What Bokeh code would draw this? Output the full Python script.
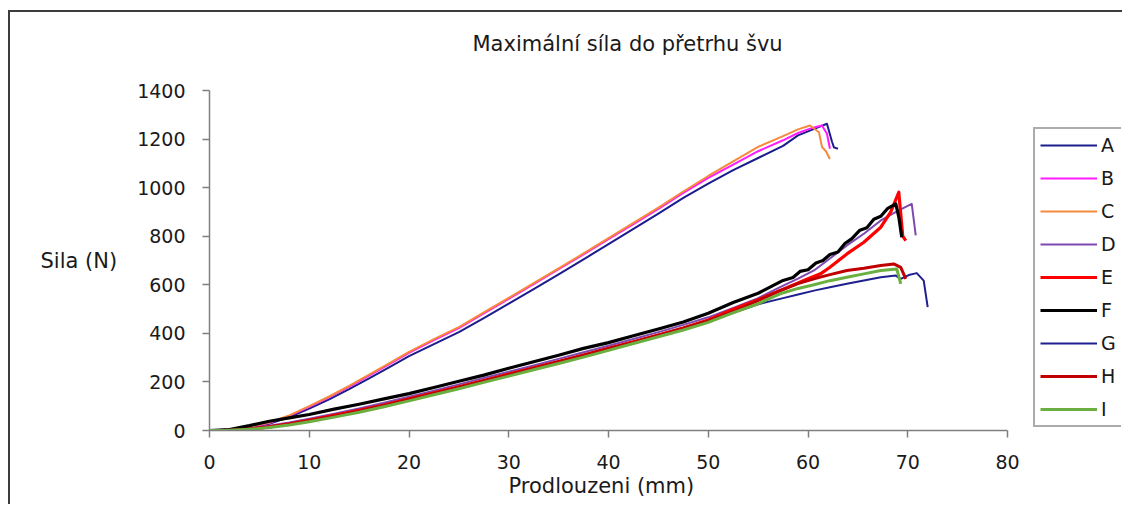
from bokeh.plotting import figure
from bokeh.models import Range1d, Legend, LegendItem, FixedTicker, Title
from bokeh.embed import file_html
from bokeh.resources import INLINE

TITLE = "Maximální síla do přetrhu švu"
X_LABEL = "Prodlouzeni (mm)"
Y_LABEL = "Sila (N)"
X_TICKS = [0, 10, 20, 30, 40, 50, 60, 70, 80]
Y_TICKS = [0, 200, 400, 600, 800, 1000, 1200, 1400]
X_MIN, X_MAX = 0, 80
Y_MIN, Y_MAX = 0, 1400

# Upper group (A, B, C)
a_x = [0, 2, 4, 6, 8, 10, 12, 14, 16, 18, 20, 22.5, 25, 27.5, 30, 32.5, 35, 37.5, 40, 42.5, 45, 47.5, 50,
       52.5, 55, 57.5, 59, 60, 61, 61.9, 62.4, 62.6, 63.0]
a_y = [0, 3, 12, 28, 55, 90, 128, 170, 215, 260, 306, 356, 405, 463, 522, 582, 643, 705, 767, 830, 893, 958, 1017,
       1072, 1122, 1172, 1215, 1232, 1248, 1263, 1190, 1166, 1160]

b_x = [0, 2, 4, 6, 8, 10, 12, 14, 16, 18, 20, 22.5, 25, 27.5, 30, 32.5, 35, 37.5, 40, 42.5, 45, 47.5, 50,
       52.5, 55, 57.5, 59, 60, 60.8, 61.4, 61.9, 62.2]
b_y = [0, 4, 14, 31, 60, 97, 137, 180, 226, 272, 320, 372, 422, 482, 542, 603, 664, 725, 788, 850, 912, 978, 1040,
       1095, 1150, 1195, 1225, 1240, 1250, 1256, 1222, 1160]

c_x = [0, 2, 4, 6, 8, 10, 12, 14, 16, 18, 20, 22.5, 25, 27.5, 30, 32.5, 35, 37.5, 40, 42.5, 45, 47.5, 50,
       52.5, 55, 57.5, 59, 60.2, 61.1, 61.4, 61.8, 62.2]
c_y = [0, 4, 15, 33, 62, 100, 140, 184, 230, 276, 324, 376, 426, 486, 546, 607, 668, 729, 792, 855, 918, 984, 1048,
       1108, 1168, 1212, 1240, 1256, 1228, 1168, 1150, 1118]

# Lower group (D - I)
d_x = [0, 2, 4, 6, 8, 10, 12.5, 15, 17.5, 20, 22.5, 25, 27.5, 30, 32.5, 35, 37.5, 40, 42.5, 45, 47.5, 50,
       52.5, 55, 57.2, 59, 60.6, 62.2, 63.9, 65.6, 67.3, 68.6, 69.5, 70.4, 70.8]
d_y = [0, 2, 9, 20, 33, 48, 69, 91, 114, 139, 164, 190, 216, 242, 268, 295, 322, 349, 377, 405, 435, 466,
       505, 545, 590, 625, 659, 708, 762, 810, 865, 895, 915, 933, 803]

e_x = [0, 2, 4, 6, 8, 10, 12.5, 15, 17.5, 20, 22.5, 25, 27.5, 30, 32.5, 35, 37.5, 40, 42.5, 45, 47.5, 50,
       52.2, 55.2, 58, 60, 61.25, 62.2, 63.9, 65.6, 67.3, 68.3, 69.1, 69.5, 69.8]
e_y = [0, 1, 6, 15, 27, 42, 62, 83, 105, 130, 155, 180, 206, 232, 258, 284, 311, 338, 365, 393, 422, 455,
       494, 542, 590, 625, 645, 672, 727, 775, 837, 900, 981, 800, 782]

f_x = [0, 2, 4, 6, 8, 10, 12.5, 15, 17.5, 20, 22.5, 25, 27.5, 30, 32.5, 35, 37.5, 40, 42.5, 45, 47.5, 50,
       52.5, 55, 57.5, 58.5, 59.2, 60, 60.8, 61.5, 62.2, 63, 63.7, 64.4, 65.2, 65.9, 66.6, 67.3, 68, 68.8, 69.1, 69.4]
f_y = [0, 4, 20, 38, 52, 66, 88, 108, 130, 152, 177, 203, 228, 256, 283, 310, 338, 362, 390, 418, 447, 483,
       527, 565, 618, 630, 655, 662, 690, 700, 725, 735, 770, 790, 825, 835, 870, 882, 915, 933, 880, 796]

g_x = [0, 2, 4, 6, 8, 10, 12.5, 15, 17.5, 20, 22.5, 25, 27.5, 30, 32.5, 35, 37.5, 40, 42.5, 45, 47.5, 50,
       52.5, 55, 57.2, 59, 60.6, 62.2, 63.9, 65.6, 67.3, 68.8, 69.3, 70.1, 70.9, 71.6, 72.0]
g_y = [0, 1, 5, 13, 24, 38, 57, 78, 100, 125, 150, 176, 202, 228, 254, 280, 307, 334, 361, 389, 418, 448,
       485, 520, 542, 560, 576, 590, 604, 618, 631, 638, 624, 640, 648, 617, 508]

h_x = [0, 2, 4, 6, 8, 10, 12.5, 15, 17.5, 20, 22.5, 25, 27.5, 30, 32.5, 35, 37.5, 40, 42.5, 45, 47.5, 50,
       52.5, 55, 57.2, 59, 60.6, 62.2, 63.9, 65.6, 67.3, 68.6, 69.3, 69.8]
h_y = [0, 1, 6, 14, 26, 40, 59, 80, 103, 128, 153, 178, 204, 230, 256, 283, 310, 337, 364, 392, 421, 452,
       490, 535, 576, 605, 625, 642, 659, 668, 679, 686, 672, 624]

i_x = [0, 2, 4, 6, 8, 10, 12.5, 15, 17.5, 20, 22.5, 25, 27.5, 30, 32.5, 35, 37.5, 40, 42.5, 45, 47.5, 50,
       52.2, 55, 57.2, 59, 60.6, 62.2, 63.9, 65.6, 67.3, 68.9, 69.3]
i_y = [0, 1, 5, 12, 23, 36, 55, 75, 98, 122, 147, 172, 198, 224, 250, 276, 302, 330, 358, 386, 414, 445,
       480, 522, 563, 585, 600, 617, 631, 645, 659, 665, 604]

SERIES_NAMES = ["A", "B", "C", "D", "E", "F", "G", "H", "I"]
SERIES_X = [a_x, b_x, c_x, d_x, e_x, f_x, g_x, h_x, i_x]
SERIES_Y = [a_y, b_y, c_y, d_y, e_y, f_y, g_y, h_y, i_y]
COLORS = ["#1c1c8c", "#ff1aff", "#f58a3c", "#7d48b0", "#ff0000", "#000000", "#1f1f90", "#c00000", "#6aaf3f"]
WIDTHS = [2, 2, 2, 2, 3.2, 3.2, 2, 3, 3]

FONT = "DejaVu Sans"
TXT = "#1a1a1a"
AXC = "#7f7f7f"

# layout (pixels)
W, H = 1114, 494
BL, BR, BT, BB = 199, 3, 78, 76
AXIS_W = 798                      # pixel length of the 0..80 axis
FRAME_W = W - BL - BR
x_view_end = X_MAX * FRAME_W / AXIS_W   # extra room on the right holds the legend

p = figure(width=W, height=H, x_range=Range1d(X_MIN, x_view_end), y_range=Range1d(Y_MIN, Y_MAX),
           output_backend="svg", toolbar_location=None, title=None,
           min_border_left=BL, min_border_right=BR, min_border_top=BT, min_border_bottom=BB)

p.styles = {"border-left": "2px solid #3c3c3c", "border-top": "2px solid #3c3c3c",
            "margin-left": "8px", "margin-top": "10px"}

# spacer between the plot area and the title, then the title itself
spacer = Title(text=" ", text_font_size="1px", standoff=32)
p.add_layout(spacer, "above")
main_title = Title(text=TITLE, align="left", offset=263, text_font=FONT, text_font_size="21px",
                   text_font_style="normal", text_color=TXT, standoff=0)
p.add_layout(main_title, "above")

p.grid.visible = False
p.outline_line_color = None

for ax, ticks in ((p.xaxis, X_TICKS), (p.yaxis, Y_TICKS)):
    ax.ticker = FixedTicker(ticks=ticks)
    ax.minor_tick_line_color = None
    ax.major_tick_in = 0
    ax.major_tick_out = 7
    ax.axis_line_color = AXC
    ax.axis_line_width = 1.5
    ax.major_tick_line_color = AXC
    ax.major_tick_line_width = 1.5
    ax.major_label_text_font = FONT
    ax.major_label_text_font_size = "19px"
    ax.major_label_text_color = TXT
    ax.axis_label_text_font = FONT
    ax.axis_label_text_font_size = "21px"
    ax.axis_label_text_font_style = "normal"
    ax.axis_label_text_color = TXT

p.xaxis.bounds = (X_MIN, X_MAX)
p.xaxis.major_label_standoff = 17
p.yaxis.axis_label = Y_LABEL
p.yaxis.axis_label_orientation = "horizontal"
p.yaxis.major_label_standoff = 17
p.yaxis.axis_label_standoff = 17

# x-axis label, positioned under the 0..80 axis
xlab = Title(text=X_LABEL, align="left", offset=299, text_font=FONT, text_font_size="21px",
             text_font_style="normal", text_color=TXT, standoff=0)
p.add_layout(xlab, "below")

items = []
for name, xs, ys, col, w in zip(SERIES_NAMES, SERIES_X, SERIES_Y, COLORS, WIDTHS):
    r = p.line(xs, ys, line_color=col, line_width=w, line_join="round")
    items.append(LegendItem(label=name, renderers=[r]))

legend = Legend(items=items, location=(824, 3), orientation="vertical", padding=5, spacing=11,
                glyph_height=14, glyph_width=57, label_height=14, label_standoff=4, margin=0,
                border_line_color="#5a5a5a", border_line_width=2, background_fill_color="white",
                label_text_font=FONT, label_text_font_size="19px", label_text_color=TXT)
p.add_layout(legend, "center")

open("out.html", "w").write(file_html(p, INLINE))
